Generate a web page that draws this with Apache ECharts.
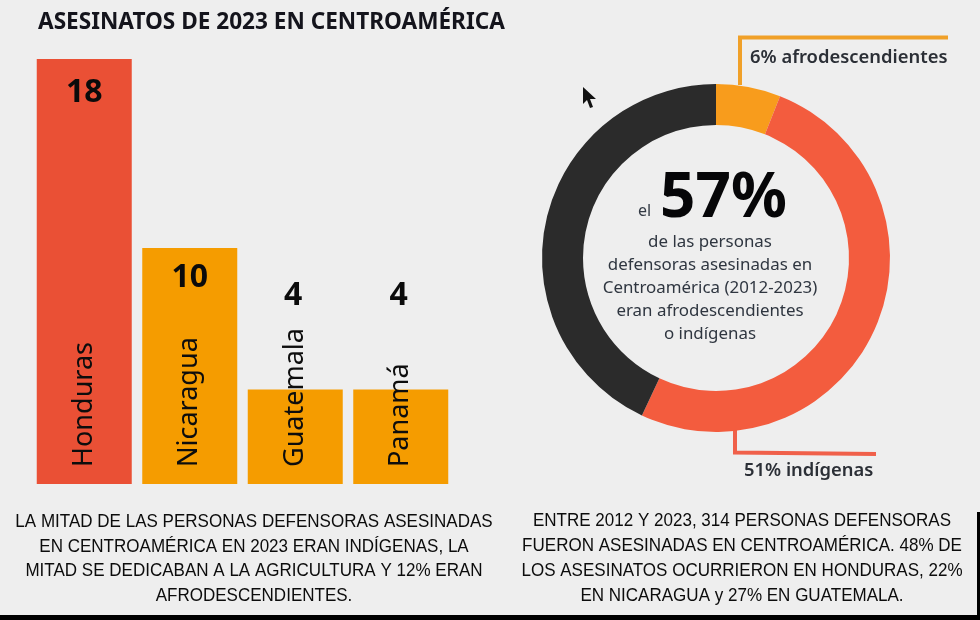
<!DOCTYPE html>
<html><head><meta charset="utf-8">
<style>html,body{margin:0;padding:0;background:#eeeeee}#c{width:980px;height:620px}</style>
<script src="https://cdn.jsdelivr.net/npm/echarts@6/dist/echarts.min.js"></script>
</head><body><div id="c"></div>
<script>
const countries = ['Honduras','Nicaragua','Guatemala','Panamá'];
const murders = [18,10,4,4];
const barColors = ['#ea5035','#f59c00','#f59c00','#f59c00'];
const shareNames = ['6% afrodescendientes','51% indígenas','Otras'];
const shareValues = [6,51,43];
const shareColors = ['#f89c1c','#f35c3e','#2b2b2b'];
const titleText = 'ASESINATOS DE 2023 EN CENTROAMÉRICA';
const centerLines = 'de las personas\ndefensoras asesinadas en\nCentroamérica (2012-2023)\neran afrodescendientes\no indígenas';
const leftNote = 'LA MITAD DE LAS PERSONAS DEFENSORAS ASESINADAS\nEN CENTROAMÉRICA EN 2023 ERAN INDÍGENAS, LA\nMITAD SE DEDICABAN A LA AGRICULTURA Y 12% ERAN\nAFRODESCENDIENTES.';
const rightNote = 'ENTRE 2012 Y 2023, 314 PERSONAS DEFENSORAS\nFUERON ASESINADAS EN CENTROAMÉRICA. 48% DE\nLOS ASESINATOS OCURRIERON EN HONDURAS, 22%\nEN NICARAGUA y 27% EN GUATEMALA.';

const labelOffsets = [
  {position:'insideTop',distance:16,offset:[0,2]},
  {position:'insideTop',distance:14,offset:[0,0]},
  {position:'top',distance:78,offset:[-2,0]},
  {position:'top',distance:78,offset:[-2,0]}
];
const valueFont = {color:'#0b0b0b',fontFamily:'Noto Sans',fontWeight:'bold',fontSize:32};
const sans = 'Noto Sans';
const line = (points,color)=>({type:'polyline',silent:true,z:1,shape:{points},style:{stroke:color,lineWidth:4,fill:null}});
const chart = echarts.init(document.getElementById('c'),null,{renderer:'canvas'});
chart.setOption({
  backgroundColor:'#eeeeee',
  animation:false,
  title:{text:titleText,left:33,top:6,textStyle:{fontFamily:sans,fontWeight:'bold',fontSize:22.6,color:'#14141c'}},
  grid:{left:31.5,top:59,width:422,height:425},
  xAxis:{type:'category',data:countries,z:10,axisLine:{show:false},axisTick:{show:false},
    axisLabel:{inside:true,rotate:90,margin:17,fontFamily:sans,fontSize:27,color:'#0d0d0d',interval:0,hideOverlap:false}},
  yAxis:{type:'value',min:0,max:18,show:false,splitLine:{show:false}},
  series:[
    {type:'bar',barWidth:95,z:2,
     data:murders.map((v,i)=>({value:v,itemStyle:{color:barColors[i]},label:{show:true,...valueFont,...labelOffsets[i]}}))},
    {type:'pie',center:[716,258],radius:[133,174],startAngle:90,clockwise:true,z:3,
     label:{show:false},labelLine:{show:false},silent:true,
     data:shareNames.map((n,i)=>({name:n,value:shareValues[i],itemStyle:{color:shareColors[i]}}))}
  ],
  graphic:[
    line([[740,85],[740,37.5],[948,37.5]],'#f0a028'),
    line([[735,430],[735,452.5],[876,454]],'#f0604a'),
    {type:'text',left:750,top:49,style:{text:shareNames[0],font:'600 18.4px "Noto Sans"',fill:'#2b2f36'}},
    {type:'text',left:744,top:462,style:{text:shareNames[1],font:'600 18.4px "Noto Sans"',fill:'#2b2f36'}},
    {type:'text',left:638,top:203,style:{text:'el',font:'16px "Noto Sans"',fill:'#333a44'}},
    {type:'text',left:660,top:168,style:{text:'57%',font:'bold 62px "Noto Sans"',fill:'#060608'}},
    {type:'text',x:710,y:231,style:{text:centerLines,align:'center',font:'16.9px "Noto Sans"',lineHeight:23,fill:'#2f3640'}},
    {type:'text',x:254,y:510,scaleX:0.92,style:{text:leftNote,align:'center',font:'18.5px "Liberation Sans"',lineHeight:24.5,fill:'#0c0c0c'}},
    {type:'text',x:742,y:508,scaleX:0.92,style:{text:rightNote,align:'center',font:'18.5px "Liberation Sans"',lineHeight:25,fill:'#0c0c0c'}},
    {type:'polygon',shape:{points:[[583,87],[583,104],[587,100],[590,108],[593,107],[590,99],[596,99]]},style:{fill:'#111'}},
    {type:'rect',shape:{x:0,y:615,width:980,height:5},style:{fill:'#000'}},
    {type:'rect',shape:{x:977,y:512,width:3,height:108},style:{fill:'#000'}}
  ]
});
</script></body></html>
